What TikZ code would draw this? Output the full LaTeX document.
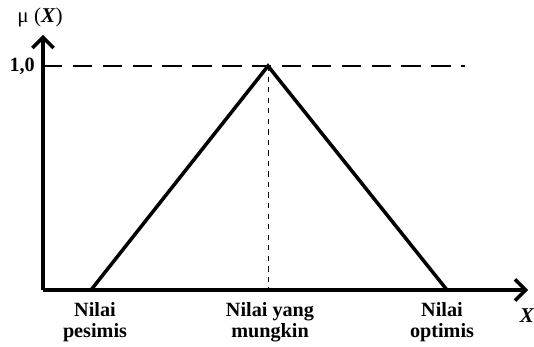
\documentclass[tikz,border=0pt]{standalone}
\usepackage{fontspec}
\setmainfont{Liberation Serif}
\usetikzlibrary{arrows.meta}

\tikzset{
    axis/.style={line width=2pt,-{Straight Barb[length=6pt,width=12pt,line width=2pt]}},
    curve/.style={line width=2pt,line join=miter},
    label/.style={font=\fontsize{11.5}{12}\selectfont\bfseries,align=center}
}

\begin{document}
\begin{tikzpicture}[x=0.02cm,y=-0.02cm]
        \useasboundingbox (0,0) rectangle (534,347);
        % --- Axes ---
        \coordinate (O) at (43,290);
        \coordinate (ytip) at (43,35);
        \coordinate (xtip) at (528,290);
        \draw[axis] (O) -- (ytip);
        \draw[axis] (O) -- (xtip);
        \node[font=\fontsize{12}{12}\selectfont] (mu) at (40,17) {μ (\textbf{\textit{X}})};
        \node[font=\fontsize{12}{12}\selectfont\bfseries\itshape] (xlab) at (527,316) {X};
        % --- Membership function ---
        \coordinate (left) at (91,290);
        \coordinate (peak) at (268,66);
        \coordinate (right) at (447,290);
        \coordinate (peakfoot) at (268,290);
        \coordinate (dashend) at (465,66);
        \coordinate (ylevel) at (43,66);
        \draw[line width=0.8pt,dash pattern=on 11pt off 6pt] (ylevel) -- (dashend);
        \draw[line width=0.4pt,dash pattern=on 3pt off 3pt] (peak) -- (peakfoot);
        \draw[curve] (left) -- (peak) -- (right);
        \node[label,left] (one) at (41,66) {1,0};
        % --- Labels ---
        \node[label] (pes) at (95,322) {Nilai\\pesimis};
        \node[label] (mung) at (270,322) {Nilai yang\\mungkin};
        \node[label] (opt) at (442,322) {Nilai\\optimis};
    \end{tikzpicture}
\end{document}
